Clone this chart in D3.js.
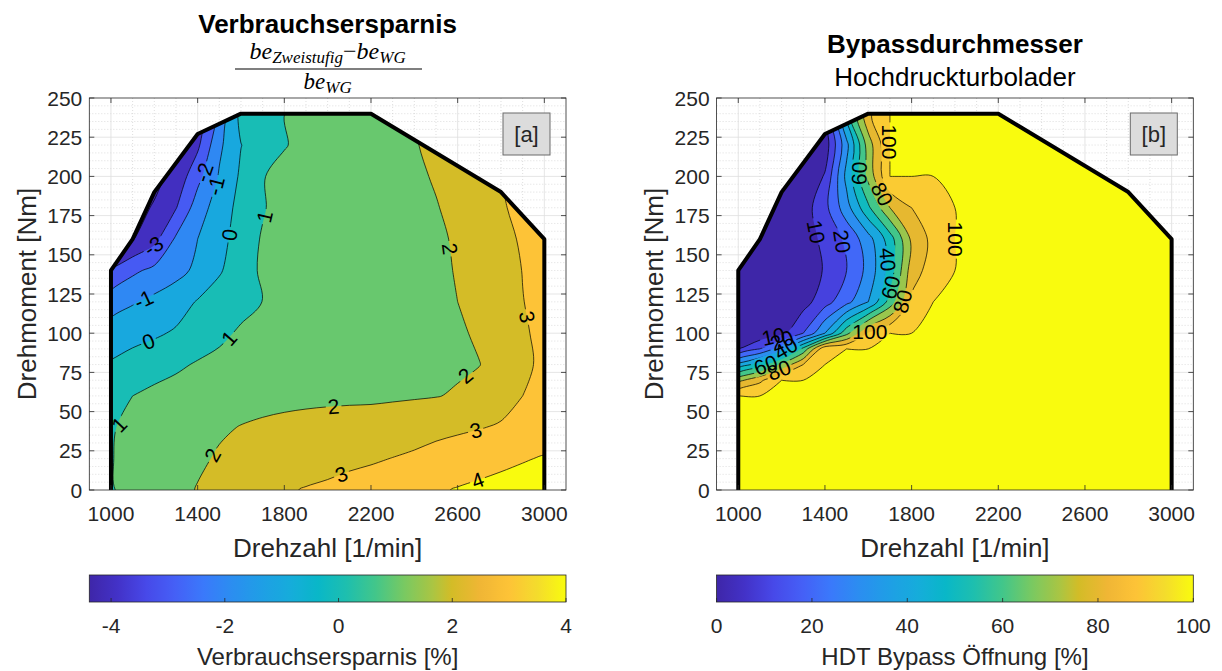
<!DOCTYPE html>
<html>
<head>
<meta charset="utf-8">
<title>Verbrauchsersparnis / Bypassdurchmesser</title>
<script src="https://d3js.org/d3.v7.min.js"></script>
<style>
  body { margin: 0; background: #fff; }
  svg { display: block; font-family: "Liberation Sans", Arial, Helvetica, sans-serif; }
</style>
</head>
<body>
<svg id="chart" width="1222" height="671"></svg>
<script>
// ---- data ----
var xTicks = [1000, 1400, 1800, 2200, 2600, 3000];
var yTicks = [0, 25, 50, 75, 100, 125, 150, 175, 200, 225, 250];

// full load line
var fullLoadRpm    = [1000, 1000, 1100, 1200, 1400, 1600, 2200, 2800, 3000, 3000];
var fullLoadTorque = [0,    140,  160,  190,  227,  240,  240,  190,  160,  0];

// [a] fuel saving [%], rows = torque, cols = rpm
var rpmA = [1000,1100,1200,1300,1400,1500,1600,1700,1800,1900,2000,2100,2200,2300,2400,2500,2600,2700,2800,2900,3000];
var torqueA = [0,20,40,60,80,100,120,140,160,180,200,220,240];
var savingGrid = [
  [0.95,1.2,1.45,1.7,2.05,2.3,2.5,2.7,2.9,3.05,3.15,3.3,3.4,3.55,3.7,3.9,4.05,4.15,4.25,4.3,4.35],
  [0.97,1.2,1.4,1.6,1.85,2.1,2.25,2.4,2.5,2.6,2.7,2.8,2.9,3.02,3.15,3.35,3.55,3.7,3.82,3.95,4.05],
  [0.95,1.15,1.35,1.55,1.72,1.88,2.03,2.13,2.2,2.25,2.3,2.35,2.4,2.5,2.6,2.72,2.82,2.95,3.1,3.3,3.6],
  [0.55,1.0,1.2,1.35,1.45,1.55,1.65,1.72,1.78,1.82,1.84,1.85,1.85,1.88,1.92,1.97,2.08,2.3,2.6,3.0,3.3],
  [0.1,0.4,0.65,0.85,1.08,1.25,1.4,1.5,1.55,1.6,1.62,1.64,1.66,1.7,1.74,1.8,1.88,1.98,2.35,2.85,3.15],
  [-0.55,-0.35,-0.15,0.12,0.5,0.8,1.12,1.3,1.4,1.45,1.5,1.52,1.55,1.6,1.65,1.75,1.88,2.12,2.45,2.9,3.2],
  [-1.45,-1.08,-0.75,-0.45,0.07,0.45,0.72,1.01,1.25,1.38,1.45,1.5,1.55,1.62,1.72,1.85,2.0,2.25,2.55,2.98,3.25],
  [-2.9,-2.2,-1.75,-1.3,-0.8,-0.1,0.55,1.15,1.38,1.48,1.55,1.6,1.65,1.72,1.8,1.9,2.03,2.3,2.6,3.02,3.3],
  [-4.4,-4.05,-3.3,-1.85,-1.0,-0.3,0.4,1.1,1.45,1.55,1.6,1.65,1.7,1.75,1.83,1.93,2.05,2.35,2.75,3.1,3.35],
  [-4.5,-4.4,-3.9,-3.05,-1.5,-0.5,0.3,0.9,1.5,1.6,1.65,1.7,1.75,1.8,1.87,1.97,2.15,2.5,2.92,3.2,3.4],
  [-4.5,-4.5,-4.3,-3.7,-2.3,-0.9,0.15,0.92,1.5,1.62,1.68,1.72,1.77,1.83,1.9,2.05,2.3,2.65,3.0,3.3,3.5],
  [-4.5,-4.5,-4.5,-4.2,-3.2,-1.2,-0.02,0.5,0.9,1.45,1.6,1.7,1.8,1.88,1.96,2.15,2.4,2.7,3.0,3.3,3.5],
  [-4.5,-4.5,-4.5,-4.5,-4.0,-1.8,0.3,0.65,0.99,1.4,1.6,1.7,1.8,1.9,2.0,2.2,2.45,2.75,3.05,3.35,3.55]
];
var levelsA = [-4, -3, -2, -1, 0, 1, 2, 3, 4];
var climA = [-4.383, 4];
var cbTicksA = [-4, -2, 0, 2, 4];
// contour labels: [rpm, torque, level]
var labelsA = [
  [1190,157,-3], [1402,204,-2], [1480,194,-1], [1536,163,0], [1720,174,1],
  [1149,122,-1], [1190,89,0], [1536,98,1], [1043,41,1],
  [1472,22,2], [2032,47,2], [2668,68,2], [2571,154,2],
  [2908,110,3], [2687,36,3], [2064,10,3], [2695,5,4]
];

// [b] HDT bypass opening [%]
var rpmB = [1000,1100,1200,1300,1400,1500,1600,1700,1800,1900,2000,2100,3000];
var torqueB = [0,50,60,70,80,90,100,120,140,160,180,200,220,240];
var bypassGrid = [
  [100,100,100,100,100,100,100,100,100,100,100,100,100],
  [100,100,100,100,100,100,100,100,100,100,100,100,100],
  [100,100,100,100,100,100,100,100,100,100,100,100,100],
  [77,88,100,100,100,100,100,100,100,100,100,100,100],
  [43,55,72,90,100,100,100,100,100,100,100,100,100],
  [10,20,36,63,98,100,100,100,100,100,100,100,100],
  [0,2,7,20,40,67,91,100,100,100,100,100,100],
  [0,0,2,6,16,27,40,64,92,100,100,100,100],
  [0,0,0,3,11,20,33,54,85,95,100,100,100],
  [0,0,0,4,13,22,36,55,82,93,100,100,100],
  [0,0,0,5,17,36,58,80,90,96,100,100,100],
  [0,0,0,0,11,43,73,100,100,100,100,100,100],
  [0,0,0,0,4,37,75,100,100,100,100,100,100],
  [0,0,0,0,5,54,88,100,100,100,100,100,100]
];
var levelsB = [10, 20, 30, 40, 50, 60, 70, 80, 90, 100];
var climB = [0, 100];
var cbTicksB = [0, 20, 40, 60, 80, 100];
var labelsB = [
  [1368,165,10], [1501,159,20], [1690,147,40], [1709,129,60], [1737,121,80],
  [1547,202,60], [1667,189,80], [1700,222,100], [1999,160,100], [1607,101,100],
  [1170,94,10], [1215,92,20], [1228,88,40], [1131,78,60], [1192,75,80]
];

// parula-like colormap sampled from the colorbar
var parulaStops = [
  [0.00,"#3e26a8"],[0.06,"#4332c8"],[0.12,"#4749e9"],[0.18,"#4560f6"],[0.24,"#3a79fb"],
  [0.30,"#2b8ef0"],[0.36,"#1f9ee6"],[0.42,"#16acdb"],[0.48,"#09b7c8"],[0.54,"#1ebfae"],
  [0.60,"#42c68a"],[0.66,"#78c962"],[0.72,"#aac543"],[0.76,"#d3bc27"],[0.82,"#f0b635"],
  [0.88,"#fdc337"],[0.94,"#f4dc2c"],[1.00,"#f9fb0e"]
];

// ---- drawing ----
var svg = d3.select("#chart");
var defs = svg.append("defs");
var parula = d3.scaleLinear()
  .domain(parulaStops.map(function(d) { return d[0]; }))
  .range(parulaStops.map(function(d) { return d[1]; }))
  .interpolate(d3.interpolateRgb)
  .clamp(true);

var axisColor = "#262626";
var axTop = 98, axBottom = 490;

var panels = [
  { id: "a", left: 89.3, right: 566, rpm: rpmA, torque: torqueA, values: savingGrid,
    levels: levelsA, clim: climA, cbTicks: cbTicksA, labels: labelsA, tag: "[a]",
    cbLabel: "Verbrauchsersparnis [%]" },
  { id: "b", left: 716.6, right: 1193.3, rpm: rpmB, torque: torqueB, values: bypassGrid,
    levels: levelsB, clim: climB, cbTicks: cbTicksB, labels: labelsB, tag: "[b]",
    cbLabel: "HDT Bypass \u00d6ffnung [%]" }
];

panels.forEach(function(p) { drawPanel(p); });

function drawPanel(p) {
  var x = d3.scaleLinear().domain([900, 3100]).range([p.left, p.right]);
  var y = d3.scaleLinear().domain([0, 250]).range([axBottom, axTop]);
  var g = svg.append("g");
  var nx = p.rpm.length, ny = p.torque.length;

  // index <-> data scales (grid may be non uniform)
  var ixToRpm = d3.scaleLinear().domain(d3.range(nx)).range(p.rpm);
  var iyToT = d3.scaleLinear().domain(d3.range(ny)).range(p.torque);
  var rpmToIx = d3.scaleLinear().domain(p.rpm).range(d3.range(nx));
  var tToIy = d3.scaleLinear().domain(p.torque).range(d3.range(ny));

  // grid lines
  var minorX = d3.range(1000, 3100, 100).filter(function(v) { return xTicks.indexOf(v) < 0; });
  var minorY = d3.range(5, 250, 5).filter(function(v) { return v % 25 !== 0; });
  g.selectAll(".mx").data(minorX).enter().append("line")
    .attr("x1", function(d) { return x(d); }).attr("x2", function(d) { return x(d); })
    .attr("y1", axTop).attr("y2", axBottom)
    .attr("stroke", "#c8c8c8").attr("stroke-width", 0.6).attr("stroke-dasharray", "1,2");
  g.selectAll(".my").data(minorY).enter().append("line")
    .attr("x1", p.left).attr("x2", p.right)
    .attr("y1", function(d) { return y(d); }).attr("y2", function(d) { return y(d); })
    .attr("stroke", "#c8c8c8").attr("stroke-width", 0.6).attr("stroke-dasharray", "1,2");
  g.selectAll(".gx").data(xTicks).enter().append("line")
    .attr("x1", function(d) { return x(d); }).attr("x2", function(d) { return x(d); })
    .attr("y1", axTop).attr("y2", axBottom)
    .attr("stroke", "#dedede").attr("stroke-width", 0.8);
  g.selectAll(".gy").data(yTicks.slice(1, -1)).enter().append("line")
    .attr("x1", p.left).attr("x2", p.right)
    .attr("y1", function(d) { return y(d); }).attr("y2", function(d) { return y(d); })
    .attr("stroke", "#dedede").attr("stroke-width", 0.8);

  // clip to full load line
  var boundary = fullLoadRpm.map(function(r, i) { return [x(r), y(fullLoadTorque[i])]; });
  defs.append("clipPath").attr("id", "clip-" + p.id)
    .append("path").attr("d", "M" + boundary.join("L") + "Z");

  var flat = [];
  p.values.forEach(function(row) { row.forEach(function(v) { flat.push(v); }); });
  var contours = d3.contours().size([nx, ny]).thresholds(p.levels)(flat);

  function toPx(pt) { return [x(ixToRpm(pt[0] - 0.5)), y(iyToT(pt[1] - 0.5))]; }
  var ringLine = d3.line().curve(d3.curveCatmullRomClosed.alpha(0.5));
  function pathOf(c) {
    return c.coordinates.map(function(poly) {
      return poly.map(function(ring) { return ringLine(ring.slice(0, -1).map(toPx)); }).join("");
    }).join("");
  }
  var color = function(v) { return parula((v - p.clim[0]) / (p.clim[1] - p.clim[0])); };

  var fills = g.append("g").attr("clip-path", "url(#clip-" + p.id + ")");
  fills.append("rect").attr("x", p.left).attr("y", axTop)
    .attr("width", p.right - p.left).attr("height", axBottom - axTop)
    .attr("fill", parula(0));
  fills.selectAll("path.f").data(contours).enter().append("path")
    .attr("d", pathOf)
    .attr("fill-rule", "evenodd")
    .attr("fill", function(c) { return color(c.value); });

  // label positions snapped onto the isolines
  function valueAt(px, py) {
    var fi = Math.max(0, Math.min(nx - 1, rpmToIx(x.invert(px))));
    var fj = Math.max(0, Math.min(ny - 1, tToIy(y.invert(py))));
    var i0 = Math.min(Math.floor(fi), nx - 2), j0 = Math.min(Math.floor(fj), ny - 2);
    var a = fi - i0, b = fj - j0, v = p.values;
    return (1 - a) * (1 - b) * v[j0][i0] + a * (1 - b) * v[j0][i0 + 1] +
           (1 - a) * b * v[j0 + 1][i0] + a * b * v[j0 + 1][i0 + 1];
  }
  var placed = p.labels.map(function(l) {
    var px = x(l[0]), py = y(l[1]), px0 = px, py0 = py, gx = 0, gy = 0;
    for (var k = 0; k < 10; k++) {
      var f = valueAt(px, py);
      gx = (valueAt(px + 1, py) - valueAt(px - 1, py)) / 2;
      gy = (valueAt(px, py + 1) - valueAt(px, py - 1)) / 2;
      var g2 = gx * gx + gy * gy;
      if (g2 < 1e-9) break;
      var sx = (l[2] - f) / g2 * gx, sy = (l[2] - f) / g2 * gy, sl = Math.hypot(sx, sy);
      if (sl > 3) { sx *= 3 / sl; sy *= 3 / sl; }
      px += sx; py += sy;
    }
    if (Math.hypot(px - px0, py - py0) > 12) { px = px0; py = py0; }
    var ang = Math.atan2(gx, -gy) * 180 / Math.PI;
    while (ang > 90) ang -= 180;
    while (ang <= -90) ang += 180;
    return { x: px, y: py, a: ang, t: String(l[2]) };
  });

  var labelG = g.append("g");
  var texts = labelG.selectAll("text").data(placed).enter().append("text")
    .attr("transform", function(d) { return "translate(" + d.x + "," + d.y + ") rotate(" + d.a + ")"; })
    .attr("text-anchor", "middle").attr("dy", "0.36em")
    .attr("font-size", 21).attr("fill", "#000")
    .text(function(d) { return d.t; });

  var mask = defs.append("mask").attr("id", "mask-" + p.id)
    .attr("maskUnits", "userSpaceOnUse").attr("x", 0).attr("y", 0).attr("width", 1222).attr("height", 671);
  mask.append("rect").attr("width", 1222).attr("height", 671).attr("fill", "#fff");
  texts.each(function(d) {
    var w = this.getComputedTextLength() + 4;
    mask.append("rect").attr("x", -w / 2).attr("y", -9).attr("width", w).attr("height", 18)
      .attr("transform", "translate(" + d.x + "," + d.y + ") rotate(" + d.a + ")")
      .attr("fill", "#000");
  });

  var lines = g.insert("g", function() { return labelG.node(); })
    .attr("clip-path", "url(#clip-" + p.id + ")");
  lines.append("g").attr("mask", "url(#mask-" + p.id + ")")
    .selectAll("path").data(contours).enter().append("path")
    .attr("d", pathOf).attr("fill", "none")
    .attr("stroke", "#000").attr("stroke-width", 0.7);

  // full load line
  g.append("path").attr("d", "M" + boundary.join("L"))
    .attr("fill", "none").attr("stroke", "#000").attr("stroke-width", 4)
    .attr("stroke-linejoin", "round");

  // axes box and ticks
  g.append("rect").attr("x", p.left).attr("y", axTop)
    .attr("width", p.right - p.left).attr("height", axBottom - axTop)
    .attr("fill", "none").attr("stroke", axisColor).attr("stroke-width", 0.8);
  xTicks.forEach(function(t) {
    g.append("line").attr("x1", x(t)).attr("x2", x(t)).attr("y1", axBottom).attr("y2", axBottom - 5)
      .attr("stroke", axisColor).attr("stroke-width", 0.8);
    g.append("line").attr("x1", x(t)).attr("x2", x(t)).attr("y1", axTop).attr("y2", axTop + 5)
      .attr("stroke", axisColor).attr("stroke-width", 0.8);
    g.append("text").attr("x", x(t)).attr("y", axBottom + 31).attr("text-anchor", "middle")
      .attr("font-size", 21).attr("fill", axisColor).text(t);
  });
  yTicks.forEach(function(t) {
    g.append("line").attr("x1", p.left).attr("x2", p.left + 5).attr("y1", y(t)).attr("y2", y(t))
      .attr("stroke", axisColor).attr("stroke-width", 0.8);
    g.append("line").attr("x1", p.right).attr("x2", p.right - 5).attr("y1", y(t)).attr("y2", y(t))
      .attr("stroke", axisColor).attr("stroke-width", 0.8);
    g.append("text").attr("x", p.left - 7).attr("y", y(t)).attr("dy", "0.36em").attr("text-anchor", "end")
      .attr("font-size", 21).attr("fill", axisColor).text(t);
  });
  var cx = (p.left + p.right) / 2;
  g.append("text").attr("x", cx).attr("y", 557).attr("text-anchor", "middle")
    .attr("font-size", 26).attr("fill", axisColor).text("Drehzahl [1/min]");
  g.append("text").attr("transform", "translate(" + (p.left - 63) + "," + ((axTop + axBottom) / 2) + ") rotate(-90)")
    .attr("text-anchor", "middle").attr("dy", "0.36em")
    .attr("font-size", 26).attr("fill", axisColor).text("Drehmoment [Nm]");

  // tag box
  var bx = p.right - 63, by = 113;
  g.append("rect").attr("x", bx).attr("y", by).attr("width", 47).attr("height", 42)
    .attr("fill", "#dcdcdc").attr("stroke", "#6b6b6b").attr("stroke-width", 1);
  g.append("text").attr("x", bx + 23.5).attr("y", by + 21).attr("dy", "0.36em")
    .attr("text-anchor", "middle").attr("font-size", 22).attr("fill", axisColor).text(p.tag);

  // colorbar
  var gid = "grad-" + p.id;
  var grad = defs.append("linearGradient").attr("id", gid);
  d3.range(0, 1.0001, 0.02).forEach(function(t) {
    grad.append("stop").attr("offset", t).attr("stop-color", parula(t));
  });
  var cbTop = 575, cbH = 27;
  var cbx = d3.scaleLinear().domain(p.clim).range([p.left, p.right]);
  g.append("rect").attr("x", p.left).attr("y", cbTop).attr("width", p.right - p.left).attr("height", cbH)
    .attr("fill", "url(#" + gid + ")").attr("stroke", axisColor).attr("stroke-width", 0.8);
  p.cbTicks.forEach(function(t) {
    g.append("line").attr("x1", cbx(t)).attr("x2", cbx(t)).attr("y1", cbTop + cbH).attr("y2", cbTop + cbH - 4)
      .attr("stroke", axisColor).attr("stroke-width", 0.8);
    g.append("text").attr("x", cbx(t)).attr("y", cbTop + cbH + 31).attr("text-anchor", "middle")
      .attr("font-size", 21).attr("fill", axisColor).text(t);
  });
  g.append("text").attr("x", cx).attr("y", 665).attr("text-anchor", "middle")
    .attr("font-size", 24).attr("fill", axisColor).text(p.cbLabel);
}

// titles
svg.append("text").attr("x", 327.6).attr("y", 33).attr("text-anchor", "middle")
  .attr("font-size", 26).attr("font-weight", "bold").attr("fill", "#000").text("Verbrauchsersparnis");
var frac = svg.append("g").attr("font-family", "'Liberation Serif', 'DejaVu Serif', serif")
  .attr("font-style", "italic").attr("fill", "#000");
var num = frac.append("text").attr("x", 327.6).attr("y", 59).attr("text-anchor", "middle").attr("font-size", 24);
num.append("tspan").text("be");
num.append("tspan").attr("font-size", 17).attr("dy", 4).text("Zweistufig");
num.append("tspan").attr("dy", -4).attr("font-style", "normal").text("\u2212");
num.append("tspan").text("be");
num.append("tspan").attr("font-size", 17).attr("dy", 4).text("WG");
frac.append("line").attr("x1", 235).attr("x2", 422).attr("y1", 69).attr("y2", 69)
  .attr("stroke", "#000").attr("stroke-width", 1.2);
var den = frac.append("text").attr("x", 327.6).attr("y", 89).attr("text-anchor", "middle").attr("font-size", 23);
den.append("tspan").text("be");
den.append("tspan").attr("font-size", 17).attr("dy", 4).text("WG");

svg.append("text").attr("x", 955).attr("y", 53).attr("text-anchor", "middle")
  .attr("font-size", 26).attr("font-weight", "bold").attr("fill", "#000").text("Bypassdurchmesser");
svg.append("text").attr("x", 955).attr("y", 86).attr("text-anchor", "middle")
  .attr("font-size", 26).attr("fill", "#000").text("Hochdruckturbolader");
</script>
</body>
</html>
